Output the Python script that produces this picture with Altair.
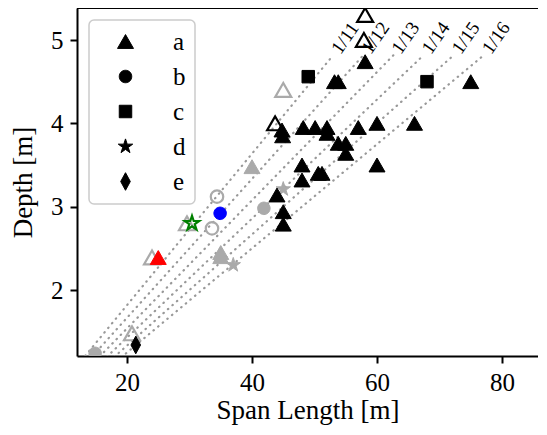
import altair as alt
import pandas as pd

# ---------------- data ----------------
a_black_span = [58.1, 53.2, 53.8, 75.0, 48.2, 50.1, 52.0, 52.0, 57.0, 60.0, 66.0,
                44.8, 44.9, 53.8, 55.0, 55.0, 60.0, 48.0, 50.6, 51.2, 48.0, 44.0, 45.0, 45.0]
a_black_depth = [4.74, 4.5, 4.5, 4.5, 3.95, 3.95, 3.95, 3.88, 3.95, 4.0, 4.0,
                 3.92, 3.85, 3.76, 3.76, 3.64, 3.5, 3.5, 3.4, 3.4, 3.32, 3.14, 2.94, 2.79]
a_open_black_span = [58.1, 57.9, 43.7]
a_open_black_depth = [5.3, 5.0, 4.0]
a_gray_span = [40.0, 35.0, 35.0]
a_gray_depth = [3.48, 2.45, 2.4]
a_gray_open_span = [45.0, 24.0, 20.8, 29.6]
a_gray_open_depth = [4.4, 2.39, 1.48, 2.8]
a_red_span = [25.0]
a_red_depth = [2.39]
b_blue_span = [34.9]
b_blue_depth = [2.92]
b_gray_open_span = [34.4, 33.6]
b_gray_open_depth = [3.12, 2.74]
b_gray_span = [41.9, 14.9]
b_gray_depth = [2.98, 1.24]
c_black_span = [49.0, 68.0]
c_black_depth = [4.56, 4.5]
d_gray_span = [45.0, 37.0]
d_gray_depth = [3.21, 2.3]
d_green_open_span = [30.4]
d_green_open_depth = [2.8]
e_black_span = [21.4]
e_black_depth = [1.34]

ratios = [11, 12, 13, 14, 15, 16]
ratio_labels = ["1/11", "1/12", "1/13", "1/14", "1/15", "1/16"]
line_depth_start = 1.1
line_depth_end = 4.82

categories = ["a", "b", "c", "d", "e"]
x_ticks = [20, 40, 60, 80]
y_ticks = [2, 3, 4, 5]

# ---------------- styles ----------------
GRAY = "#aaaaaa"
styles = {
    "black": ("black", "black", 1.0),
    "black_open": ("transparent", "black", 2.2),
    "gray": (GRAY, GRAY, 1.0),
    "gray_open": ("transparent", GRAY, 2.2),
    "red": ("#ff0000", "#ff0000", 1.0),
    "blue": ("#0000ff", "#0000ff", 1.0),
    "green_open": ("transparent", "#008000", 2.2),
}

groups = [
    ("a", "gray_open", a_gray_open_span, a_gray_open_depth),
    ("a", "gray", a_gray_span, a_gray_depth),
    ("b", "gray_open", b_gray_open_span, b_gray_open_depth),
    ("b", "gray", b_gray_span, b_gray_depth),
    ("d", "gray", d_gray_span, d_gray_depth),
    ("a", "black", a_black_span, a_black_depth),
    ("a", "black_open", a_open_black_span, a_open_black_depth),
    ("c", "black", c_black_span, c_black_depth),
    ("e", "black", e_black_span, e_black_depth),
    ("a", "red", a_red_span, a_red_depth),
    ("b", "blue", b_blue_span, b_blue_depth),
    ("d", "green_open", d_green_open_span, d_green_open_depth),
]

rows = []
for cat, st, xs, ys in groups:
    f, s, w = styles[st]
    for xv, yv in zip(xs, ys):
        rows.append({"cat": cat, "span": xv, "depth": yv, "fill": f, "stroke": s, "sw": w})
pts = pd.DataFrame(rows)
pts["ord"] = range(len(pts))

line_rows = []
for k, lab in zip(ratios, ratio_labels):
    for d in (line_depth_start, line_depth_end):
        line_rows.append({"k": lab, "span": d * k, "depth": d})
lines_df = pd.DataFrame(line_rows)
labels_df = pd.DataFrame({"k": ratio_labels,
                          "span": [line_depth_end * k for k in ratios],
                          "depth": [line_depth_end] * len(ratios)})

# ---------------- shapes ----------------
STAR = ("M0,-0.95L0.214,-0.294L0.903,-0.294L0.345,0.112L0.559,0.769L0,0.363"
        "L-0.559,0.769L-0.345,0.112L-0.903,-0.294L-0.214,-0.294Z")
DIAMOND = "M0,-1.1L0.6,0L0,1.1L-0.6,0Z"
CIRCLE = "M0.78,0A0.78,0.78 0 1,1 -0.78,0A0.78,0.78 0 1,1 0.78,0Z"
SQUARE = "M-0.78,-0.78L0.78,-0.78L0.78,0.78L-0.78,0.78Z"
shape_range = ["triangle-up", CIRCLE, SQUARE, STAR, DIAMOND]

FONT = "Liberation Serif"
W, H = 461, 348
xdom = [12, 85.76]
ydom = [1.208, 5.384]

xenc = alt.X("span:Q", scale=alt.Scale(domain=xdom, nice=False, zero=False),
             axis=alt.Axis(values=x_ticks, format="d", title="Span Length [m]", grid=False))
yenc = alt.Y("depth:Q", scale=alt.Scale(domain=ydom, nice=False, zero=False),
             axis=alt.Axis(values=y_ticks, format="d", title="Depth [m]", grid=False))

lines = alt.Chart(lines_df).mark_line(
    clip=True, color="#999999", strokeWidth=2.2, strokeDash=[0.5, 5.5], strokeCap="round"
).encode(x=xenc, y=yenc, detail="k:N")

labels = alt.Chart(labels_df).mark_text(
    align="left", baseline="middle", angle=305, dx=4, font=FONT, fontSize=19, color="black"
).encode(x="span:Q", y="depth:Q", text="k:N")

points = alt.Chart(pts).mark_point(filled=True, size=256, opacity=1, clip=True).encode(
    x="span:Q",
    y="depth:Q",
    shape=alt.Shape("cat:N", scale=alt.Scale(domain=categories, range=shape_range),
                    legend=alt.Legend(title=None, orient="none", legendX=12, legendY=12,
                                      padding=9, fillColor="white", strokeColor="#cccccc",
                                      cornerRadius=5, symbolSize=256,
                                      symbolFillColor="black", symbolStrokeColor="black",
                                      symbolStrokeWidth=1, symbolOpacity=1,
                                      symbolOffset=15, labelOffset=35, rowPadding=9,
                                      labelFont=FONT, labelFontSize=25, labelColor="black")),
    fill=alt.Fill("fill:N", scale=None),
    stroke=alt.Stroke("stroke:N", scale=None),
    strokeWidth=alt.StrokeWidth("sw:Q", scale=None),
    order=alt.Order("ord:Q"),
)

border = alt.Chart(pd.DataFrame({"v": [0]})).mark_rule(color="black", strokeWidth=2).encode(
    x=alt.value(0), x2=alt.value(W), y=alt.value(0)
)

chart = alt.layer(lines, labels, points, border).properties(
    width=W, height=H,
    autosize=alt.AutoSizeParams(type="none"),
    padding={"left": 69, "top": 0, "right": 0, "bottom": 70},
).configure_view(stroke=None).configure_axis(
    domainColor="black", domainWidth=2, tickColor="black", tickWidth=2, tickSize=7,
    labelFont=FONT, labelFontSize=25, labelColor="black", labelPadding=7,
    titleFont=FONT, titleFontSize=27, titleFontWeight="normal", titleColor="black",
).configure_axisX(titlePadding=2).configure_axisY(titlePadding=13).configure_legend(strokeWidth=1.5)

chart.save("out.html", embed_options={"renderer": "svg", "actions": False})
